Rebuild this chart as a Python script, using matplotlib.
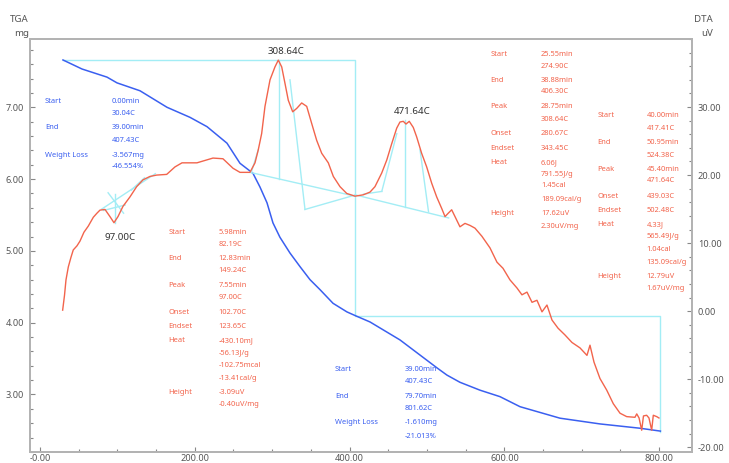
import matplotlib
matplotlib.use('Agg')
import matplotlib.pyplot as plt
from matplotlib.ticker import MultipleLocator, FixedLocator, FixedFormatter

# ---------------- data ----------------
tga_T = [29.7, 54.3, 86.6, 99.5, 129.2, 164.1, 193.8, 215.8, 241.6, 258.4, 275.2, 284.2,
         293.3, 301.0, 310.0, 323.0, 336.0, 348.8, 361.8, 378.6, 396.6, 407.0, 426.4,
         465.1, 513.0, 525.8, 542.6, 568.5, 594.3, 620.2, 671.8, 723.5, 775.2, 801.6]
tga_mg = [7.659, 7.533, 7.42, 7.34, 7.23, 7.00, 6.86, 6.73, 6.50, 6.22, 6.08, 5.89,
          5.67, 5.39, 5.19, 4.97, 4.78, 4.60, 4.46, 4.27, 4.15, 4.10, 4.01,
          3.76, 3.37, 3.27, 3.17, 3.06, 2.97, 2.83, 2.67, 2.59, 2.53, 2.49]

dta_T = [29.3, 31.7, 33.6, 36.6, 40.0, 43.0, 47.8, 51.7, 56.8, 62.4, 68.9, 73.6, 77.5, 84.0,
         90.4, 95.6, 100.8, 107.2, 116.3, 124.9, 133.1, 142.1, 150.8, 163.7, 174.4, 183.5,
         193.8, 202.8, 223.5, 236.4, 249.4, 258.4, 271.3, 277.8, 282.0, 286.4, 290.7, 297.2,
         303.6, 307.9, 312.3, 316.5, 320.8, 326.5, 331.7, 338.1, 344.6, 351.0, 357.5, 364.0,
         372.5, 379.0, 387.6, 396.3, 407.0, 417.7, 426.4, 432.8, 441.5, 448.0, 454.4, 460.9,
         465.1, 469.4, 472.9, 477.1, 482.3, 486.7, 493.1, 499.6, 506.1, 512.5, 519.0, 523.3,
         527.5, 531.9, 536.2, 542.6, 549.1, 555.6, 562.0, 571.0, 581.4, 590.4, 598.2, 607.2,
         616.3, 622.7, 629.2, 635.7, 642.1, 648.6, 655.0, 661.5, 669.3, 678.3, 687.3, 697.7,
         706.7, 710.6, 715.8, 723.5, 732.2, 740.7, 749.4, 758.0, 768.7, 771.0, 774.0, 777.4,
         779.7, 783.8, 786.8, 790.3, 792.4, 796.8, 799.7]
dta_uV = [0.15, 2.35, 4.6, 6.5, 7.9, 9.0, 9.6, 10.3, 11.6, 12.5, 13.8, 14.4, 14.85, 14.95,
          13.9, 13.0, 13.9, 15.4, 16.8, 18.3, 19.3, 19.8, 20.0, 20.1, 21.2, 21.8,
          21.8, 21.8, 22.5, 22.4, 21.0, 20.4, 20.4, 21.8, 23.7, 26.1, 30.1, 34.0,
          35.9, 36.9, 35.9, 33.5, 31.0, 29.3, 29.8, 30.6, 30.1, 27.6, 25.1, 23.2,
          21.8, 19.8, 18.3, 17.3, 16.9, 17.1, 17.5, 18.3, 20.3, 22.2, 24.6, 26.9,
          27.8, 27.9, 27.5, 27.9, 27.0, 25.6, 23.2, 21.2, 18.8, 16.8, 15.1, 13.9,
          14.4, 14.9, 13.9, 12.4, 12.9, 12.6, 12.2, 11.0, 9.3, 7.2, 6.3, 4.6,
          3.4, 2.4, 2.8, 1.3, 1.6, -0.1, 0.9, -1.3, -2.5, -3.5, -4.6, -5.4,
          -6.5, -5.0, -7.5, -9.9, -11.6, -13.6, -15.0, -15.5, -15.6, -15.1, -15.7, -17.5,
          -15.4, -15.3, -15.7, -17.5, -15.3, -15.5, -15.7]

# TGA step construction (temperature, mass)
step_T = [30.04, 407.43, 407.43, 801.62, 801.62]
step_mg = [7.659, 7.659, 4.09, 4.09, 2.482]

# DTA construction segments: (T0, v0, T1, v1)
dta_segments = [
    (79.7, 15.0, 149.0, 20.2),     # peak 1 baseline
    (82.0, 14.8, 110.0, 15.6),
    (88.0, 17.4, 108.0, 14.4),
    (97.0, 12.9, 97.0, 17.2),
    (118.0, 17.8, 135.0, 19.6),
    (271.3, 20.4, 407.0, 16.9),    # peak 2 baseline
    (273.0, 20.4, 282.0, 23.7),
    (323.0, 34.0, 342.4, 14.95),
    (342.4, 14.95, 407.0, 17.06),
    (308.64, 36.9, 308.64, 19.4),
    (407.0, 17.1, 528.0, 13.7),    # peak 3 baseline
    (418.0, 17.2, 441.6, 17.6),
    (441.6, 17.6, 461.0, 26.1),
    (471.64, 28.1, 471.64, 15.3),
    (491.0, 23.7, 502.0, 14.6),
]

peak_labels = ["97.00C", "308.64C", "471.64C"]

blue_block1 = [("Start", "0.00min"), ("", "30.04C"), ("End", "39.00min"), ("", "407.43C"),
               ("Weight Loss", "-3.567mg"), ("", "-46.554%")]
blue_block2 = [("Start", "39.00min"), ("", "407.43C"), ("End", "79.70min"), ("", "801.62C"),
               ("Weight Loss", "-1.610mg"), ("", "-21.013%")]
red_block1 = [("Start", "5.98min"), ("", "82.19C"), ("End", "12.83min"), ("", "149.24C"),
              ("Peak", "7.55min"), ("", "97.00C"), ("Onset", "102.70C"), ("Endset", "123.65C"),
              ("Heat", "-430.10mJ"), ("", "-56.13J/g"), ("", "-102.75mcal"), ("", "-13.41cal/g"),
              ("Height", "-3.09uV"), ("", "-0.40uV/mg")]
red_block2 = [("Start", "25.55min"), ("", "274.90C"), ("End", "38.88min"), ("", "406.30C"),
              ("Peak", "28.75min"), ("", "308.64C"), ("Onset", "280.67C"), ("Endset", "343.45C"),
              ("Heat", "6.06J"), ("", "791.55J/g"), ("", "1.45cal"), ("", "189.09cal/g"),
              ("Height", "17.62uV"), ("", "2.30uV/mg")]
red_block3 = [("Start", "40.00min"), ("", "417.41C"), ("End", "50.95min"), ("", "524.38C"),
              ("Peak", "45.40min"), ("", "471.64C"), ("Onset", "439.03C"), ("Endset", "502.48C"),
              ("Heat", "4.33J"), ("", "565.49J/g"), ("", "1.04cal"), ("", "135.09cal/g"),
              ("Height", "12.79uV"), ("", "1.67uV/mg")]

x_ticks = [0, 200, 400, 600, 800]
x_tick_labels = ["-0.00", "200.00", "400.00", "600.00", "800.00"]
left_ticks = [3, 4, 5, 6, 7]
left_tick_labels = ["3.00", "4.00", "5.00", "6.00", "7.00"]
right_ticks = [-20, -10, 0, 10, 20, 30]
right_tick_labels = ["-20.00", "-10.00", "0.00", "10.00", "20.00", "30.00"]

# ---------------- style ----------------
W, H = 729, 463
FONT = 'Noto Sans'
RED = '#f2644c'
BLUE = '#3a5ff0'
CYAN = '#a3edf5'
GREY = '#b3b3b3'
TICKC = '#555555'

plt.rcParams['font.family'] = [FONT, 'DejaVu Sans']

fig = plt.figure(figsize=(W / 100, H / 100), dpi=100)
L, R, T, B = 30, 692, 39, 452
ax = fig.add_axes([L / W, 1 - B / H, (R - L) / W, (B - T) / H])
ax2 = ax.twinx()

ax.set_xlim(-12.9, 842.4)
ax.set_ylim(2.199, 7.951)
ax2.set_ylim(-20.7, 40.0)

for a in (ax, ax2):
    for s in a.spines.values():
        s.set_color(GREY)
        s.set_linewidth(1.4)

ax.xaxis.set_major_locator(FixedLocator(x_ticks))
ax.xaxis.set_major_formatter(FixedFormatter(x_tick_labels))
ax.xaxis.set_minor_locator(MultipleLocator(50))
ax.yaxis.set_major_locator(FixedLocator(left_ticks))
ax.yaxis.set_major_formatter(FixedFormatter(left_tick_labels))
ax.yaxis.set_minor_locator(MultipleLocator(0.2))
ax2.yaxis.set_major_locator(FixedLocator(right_ticks))
ax2.yaxis.set_major_formatter(FixedFormatter(right_tick_labels))
ax2.yaxis.set_minor_locator(MultipleLocator(2))

ax.tick_params(axis='both', which='both', direction='in', color='#888888', labelcolor=TICKC,
               labelsize=6.6, width=0.8)
ax.tick_params(axis='both', which='major', length=3.5)
ax.tick_params(axis='both', which='minor', length=2.2)
ax.tick_params(axis='x', pad=1.5)
ax.tick_params(axis='y', pad=4.3)
ax.tick_params(top=False, right=False, which='both')
ax2.tick_params(axis='y', which='both', direction='in', color='#888888', labelcolor=TICKC,
                labelsize=6.6, width=0.8, pad=4.3)
ax2.tick_params(axis='y', which='major', length=3.5)
ax2.tick_params(axis='y', which='minor', length=2.2)

# construction lines
ax.plot(step_T, step_mg, color=CYAN, lw=1.0, zorder=1)
for (t0, v0, t1, v1) in dta_segments:
    ax2.plot([t0, t1], [v0, v1], color=CYAN, lw=1.0, zorder=1)

# curves
ax.plot(tga_T, tga_mg, color=BLUE, lw=1.1, zorder=3)
ax2.plot(dta_T, dta_uV, color=RED, lw=1.0, zorder=3)

def ftext(x, y, s, **kw):
    fig.text(x / W, 1 - y / H, s, **kw)

# axis titles
ftext(29, 20, "TGA", ha='right', va='center', fontsize=7, color=TICKC)
ftext(29, 33, "mg", ha='right', va='center', fontsize=7, color=TICKC)
ftext(694, 20, "DTA", ha='left', va='center', fontsize=7, color=TICKC)
ftext(701, 33, "uV", ha='left', va='center', fontsize=7, color=TICKC)

# peak labels
peak_pos = [(120.5, 238), (285.5, 52), (412.5, 112)]
for s, (px, py) in zip(peak_labels, peak_pos):
    ftext(px, py, s, ha='center', va='center', fontsize=7, color='#333333')

def block(rows, xl, xv, ys, color):
    for (lab, val), y in zip(rows, ys):
        if lab:
            ftext(xl, y, lab, ha='left', va='center', fontsize=5.4, color=color)
        ftext(xv, y, val, ha='left', va='center', fontsize=5.4, color=color)

block(blue_block1, 45, 112, [101.7, 113.3, 127.7, 140, 155, 166.7], BLUE)
block(blue_block2, 335, 405, [369.3, 381.7, 396, 408.3, 422.7, 436], BLUE)
block(red_block1, 168.3, 218.3, [232.3, 244, 259, 271, 285.7, 297.7, 312.3, 326.7, 341,
                                 353.3, 365.7, 378.3, 392.7, 405], RED)
block(red_block2, 490.7, 541, [54, 66.7, 80, 91.7, 106.7, 119.3, 133.3, 148.3, 162.7,
                               174.3, 186, 199.3, 213.3, 226], RED)
block(red_block3, 597.3, 646.7, [116, 128.3, 142.3, 155, 169.3, 180.7, 196, 210, 225,
                                 236.7, 249.3, 262.7, 276, 289], RED)

fig.savefig('out.png', dpi=100)
